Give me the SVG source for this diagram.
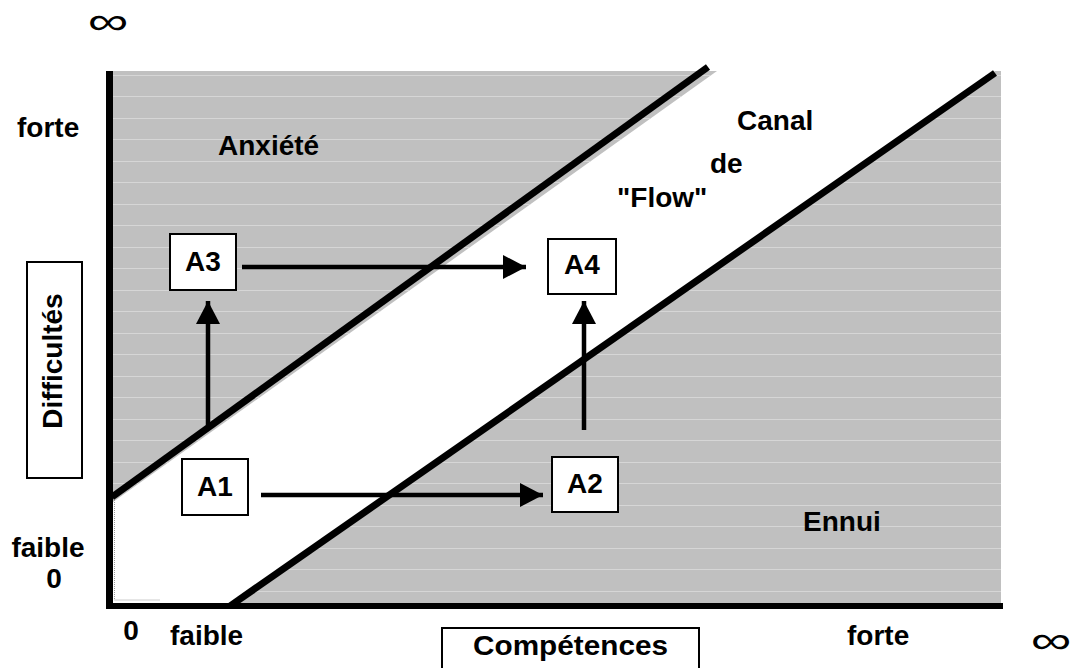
<svg xmlns="http://www.w3.org/2000/svg" width="1074" height="668" viewBox="0 0 1074 668">
<style>
.t{font-family:"Liberation Sans",Arial,sans-serif;font-weight:bold;font-size:28px;fill:#000}
.inf{font-family:"Liberation Sans",Arial,sans-serif;font-size:38px;fill:#000}
.box{fill:#fff;stroke:#000;stroke-width:2}
.bnd{stroke:#000;stroke-width:7;fill:none}
.arr{stroke:#000;stroke-width:4.5;fill:none;marker-end:url(#ah)}
.hl{stroke:#d6d6d6;stroke-width:1}
</style>
<defs>
<marker id="ah" markerUnits="userSpaceOnUse" markerWidth="23" markerHeight="24" refX="23" refY="12" orient="auto">
<path d="M0,0 L23,12 L0,24 z" fill="#000"/>
</marker>
<clipPath id="gc">
<polygon points="113,71 717,71 113,502"/>
<polygon points="230,606 995,71 1001,71 1001,606"/>
</clipPath>
</defs>
<rect width="1074" height="668" fill="#fff"/>
<g id="zones">
<polygon points="113,71 717,71 113,502" fill="#c0c0c0"/>
<polygon points="230,606 995,71 1001,71 1001,606" fill="#c0c0c0"/>
<g clip-path="url(#gc)">
<path class="hl" d="M113,75.5H1001M113,96.5H1001M113,118.5H1001M113,139.5H1001M113,161.5H1001M113,182.5H1001M113,204.5H1001M113,225.5H1001M113,247.5H1001M113,268.5H1001M113,290.5H1001M113,311.5H1001M113,333.5H1001M113,354.5H1001M113,376.5H1001M113,397.5H1001M113,419.5H1001M113,440.5H1001M113,462.5H1001M113,483.5H1001M113,505.5H1001M113,526.5H1001M113,548.5H1001M113,569.5H1001M113,591.5H1001"/>
</g>
<path d="M114.5,500V600H160" stroke="#9a9a9a" stroke-width="1" stroke-dasharray="1,1" fill="none"/>
</g>
<g id="axes">
<rect x="106" y="71" width="7" height="538" fill="#000"/>
<rect x="106" y="603" width="897" height="6" fill="#000"/>
</g>
<g id="boundaries">
<line class="bnd" x1="112" y1="497" x2="708" y2="67"/>
<line class="bnd" x1="230" y1="606" x2="995" y2="73"/>
</g>
<g id="labels">
<text class="inf" transform="translate(108,34) scale(1.5,1)" text-anchor="middle">∞</text>
<text class="inf" transform="translate(1051,653) scale(1.5,1)" text-anchor="middle">∞</text>
<text class="t" x="17" y="137">forte</text>
<text class="t" x="48" y="557" text-anchor="middle">faible</text>
<text class="t" x="54" y="588" text-anchor="middle">0</text>
<text class="t" x="131" y="640" text-anchor="middle">0</text>
<text class="t" x="170" y="645">faible</text>
<text class="t" x="847" y="645">forte</text>
<text class="t" x="218" y="155">Anxiété</text>
<text class="t" x="737" y="130">Canal</text>
<text class="t" x="710" y="173">de</text>
<text class="t" x="617" y="207">"Flow"</text>
<text class="t" x="803" y="531">Ennui</text>
</g>
<g id="difficultes">
<rect x="27" y="262" width="55" height="216" fill="#fff" stroke="#000" stroke-width="2"/>
<text class="t" transform="translate(62,361) rotate(-90)" text-anchor="middle">Difficultés</text>
</g>
<g id="competences">
<rect x="442" y="628" width="257" height="44" fill="#fff" stroke="#000" stroke-width="2"/>
<text class="t" x="473" y="655" textLength="195" lengthAdjust="spacingAndGlyphs">Compétences</text>
</g>
<g id="A1">
<rect class="box" x="182" y="459" width="66" height="56"/>
<text class="t" x="215" y="496" text-anchor="middle">A1</text>
</g>
<g id="A2">
<rect class="box" x="552" y="457" width="66" height="55"/>
<text class="t" x="585" y="493" text-anchor="middle">A2</text>
</g>
<g id="A3">
<rect class="box" x="170" y="234" width="66" height="56"/>
<text class="t" x="203" y="271" text-anchor="middle">A3</text>
</g>
<g id="A4">
<rect class="box" x="548" y="239" width="68" height="55"/>
<text class="t" x="582" y="274" text-anchor="middle">A4</text>
</g>
<g id="connectors">
<line class="arr" x1="242" y1="267" x2="526" y2="267"/>
<line class="arr" x1="261" y1="495" x2="543" y2="495"/>
<line class="arr" x1="208" y1="425" x2="208" y2="301"/>
<line class="arr" x1="584" y1="430" x2="584" y2="301"/>
</g>
</svg>
